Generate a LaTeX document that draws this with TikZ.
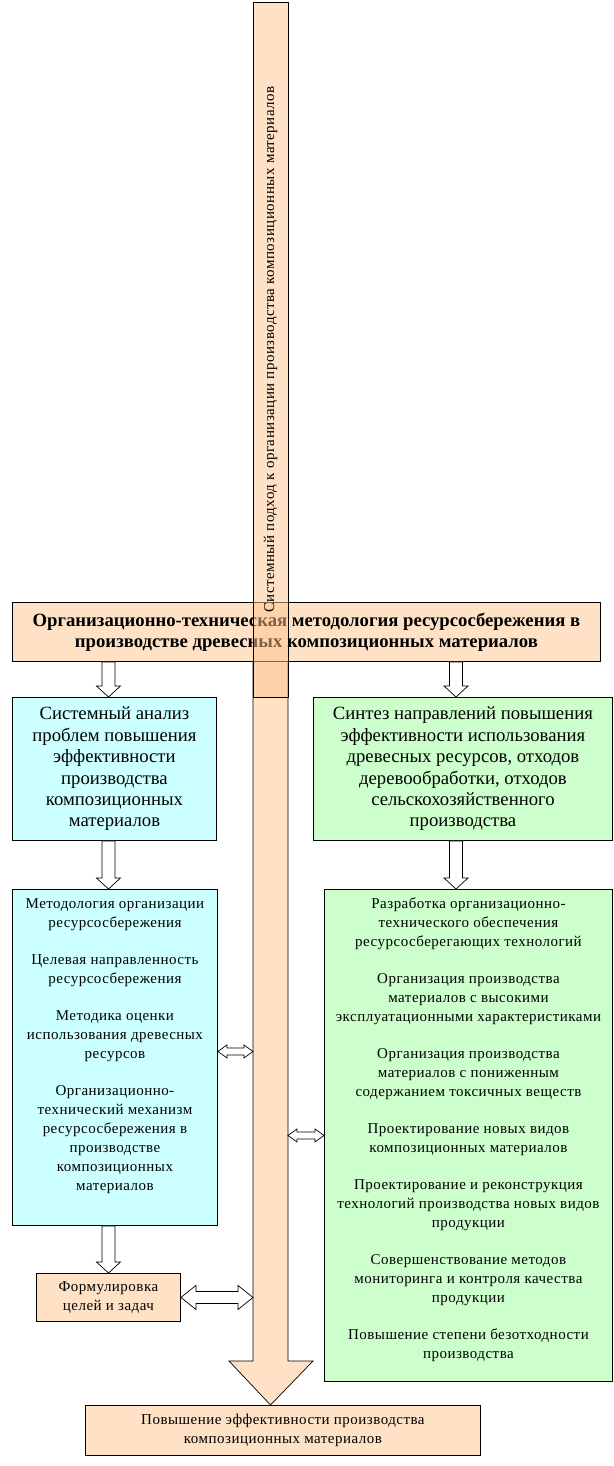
\documentclass[tikz,border=0pt]{standalone}
\usepackage{fontspec}
\setmainfont{Liberation Serif}
\newfontfamily\spacedserif[LetterSpace=3.2]{Liberation Serif}
\usepackage{tikz}
\usetikzlibrary{calc}

\definecolor{peach}{RGB}{255,226,198}
\definecolor{peachglass}{RGB}{255,197,141}
\definecolor{paleblue}{RGB}{204,255,255}
\definecolor{palegreen}{RGB}{204,255,204}

\tikzset{
    box/.style={draw=black, line width=0.9pt, inner sep=0pt, anchor=north west},
    peachbox/.style={box, fill=peach},
    bluebox/.style={box, fill=paleblue},
    greenbox/.style={box, fill=palegreen},
    headtext/.style={align=center, font=\fontsize{18.7}{21}\selectfont\bfseries},
    titletext/.style={align=center, font=\fontsize{18.7}{21.4}\selectfont},
    listtext/.style={align=center, inner sep=0pt, font=\spacedserif\fontsize{15}{19}\selectfont},
    sysbarbox/.style={draw=black, line width=0.9pt, fill=peachglass, fill opacity=0.5,
        text opacity=1, rotate=90, minimum width=695, minimum height=35, inner sep=0pt,
        font=\spacedserif\fontsize{15}{19}\selectfont},
    blockarrow/.style={draw=black, line width=0.7pt, fill=white},
    bigarrow/.style={draw=black, line width=0.7pt, fill=peach},
}

% hollow arrow pointing down: #1 start, #2 tip
\newcommand{\blockdown}[2]{%
    \draw[blockarrow] let \p1=#1, \p2=#2 in
        (\x1-6.5pt,\y1) -- (\x1+6.5pt,\y1) -- (\x1+6.5pt,\y2-11pt) -- (\x1+12pt,\y2-11pt)
        -- (\x1,\y2) -- (\x1-12pt,\y2-11pt) -- (\x1-6.5pt,\y2-11pt) -- cycle;}
% hollow two-headed arrow: #1 left end, #2 right end, #3 shaft, #4 head, #5 head length
\newcommand{\blockboth}[5]{%
    \draw[blockarrow] let \p1=#1, \p2=#2 in
        (\x1,\y1) -- (\x1+#5,\y1+#4) -- (\x1+#5,\y1+#3) -- (\x2-#5,\y1+#3)
        -- (\x2-#5,\y1+#4) -- (\x2,\y1) -- (\x2-#5,\y1-#4) -- (\x2-#5,\y1-#3)
        -- (\x1+#5,\y1-#3) -- (\x1+#5,\y1-#4) -- cycle;}

\begin{document}
\begin{tikzpicture}[x=1pt,y=1pt,yscale=-1]
        \useasboundingbox (0,0) rectangle (613,1466);

        % Big arrow along the system approach
        \coordinate (shaftL) at (253,631);
        \coordinate (shaftR) at (288,631);
        \coordinate (tip) at (270.5,1405);
        \coordinate (rightaxis) at (456,0);
        \draw[bigarrow] (shaftL) -- (253,1361) -- (229,1361) -- (tip) -- (313,1361)
            -- (288,1361) -- (shaftR) -- cycle;

        % Text Node
        \node[peachbox, headtext, minimum width=588, minimum height=59] (topbox) at (12,602) {%
            Организационно-техническая методология ресурсосбережения в\\
            производстве древесных композиционных материалов
        };
        % Text Node
        \node[sysbarbox] (sysbar) at (270.5,349.5) {%
            Системный подход к организации производства композиционных материалов
        };

        % Text Node
        \node[bluebox, titletext, minimum width=204, minimum height=143] (blueA) at (12,697) {%
            Системный анализ\\
            проблем повышения\\
            эффективности\\
            производства\\
            композиционных\\
            материалов
        };
        % Text Node
        \node[greenbox, titletext, minimum width=299, minimum height=143] (greenA) at (313,697) {%
            Синтез направлений повышения\\
            эффективности использования\\
            древесных ресурсов, отходов\\
            деревообработки, отходов\\
            сельскохозяйственного\\
            производства
        };

        % Boxes with lists
        \node[bluebox, minimum width=205, minimum height=336] (blueB) at (12,889) {};
        \node[listtext, anchor=north] (blueBtext) at ([yshift=9pt]blueB.north) {%
            Методология организации\\
            ресурсосбережения\\[18pt]
            Целевая направленность\\
            ресурсосбережения\\[18pt]
            Методика оценки\\
            использования древесных\\
            ресурсов\\[18pt]
            Организационно-\\
            технический механизм\\
            ресурсосбережения в\\
            производстве\\
            композиционных\\
            материалов
        };
        \node[greenbox, minimum width=288, minimum height=492] (greenB) at (324,889) {};
        \node[listtext, anchor=north] (greenBtext) at ([yshift=9pt]greenB.north) {%
            Разработка организационно-\\
            технического обеспечения\\
            ресурсосберегающих технологий\\[18pt]
            Организация производства\\
            материалов с высокими\\
            эксплуатационными характеристиками\\[18pt]
            Организация производства\\
            материалов с пониженным\\
            содержанием токсичных веществ\\[18pt]
            Проектирование новых видов\\
            композиционных материалов\\[18pt]
            Проектирование и реконструкция\\
            технологий производства новых видов\\
            продукции\\[18pt]
            Совершенствование методов\\
            мониторинга и контроля качества\\
            продукции\\[18pt]
            Повышение степени безотходности\\
            производства
        };

        % Text Node
        \node[peachbox, listtext, minimum width=144, minimum height=48] (formul) at (36,1273) {%
            Формулировка\\
            целей и задач
        };
        % Text Node
        \node[peachbox, listtext, minimum width=395, minimum height=50] (result) at (85,1405) {%
            Повышение эффективности производства\\
            композиционных материалов
        };

        % Hollow arrows
        \blockdown{(topbox.south -| formul.north)}{(blueA.north -| formul.north)}
        \blockdown{(blueA.south -| formul.north)}{(blueB.north -| formul.north)}
        \blockdown{(blueB.south -| formul.north)}{(formul.north)}
        \blockdown{(topbox.south -| rightaxis)}{(greenA.north -| rightaxis)}
        \blockdown{(greenA.south -| rightaxis)}{(greenB.north -| rightaxis)}
        \blockboth{([yshift=-6pt]blueB.east)}{(shaftL)}{3.5pt}{6.5pt}{9pt}
        \blockboth{(greenB.west -| shaftR)}{(greenB.west)}{3.5pt}{6.5pt}{9pt}
        \blockboth{(formul.east)}{(formul.east -| shaftL)}{6pt}{12pt}{15pt}
\end{tikzpicture}
\end{document}
